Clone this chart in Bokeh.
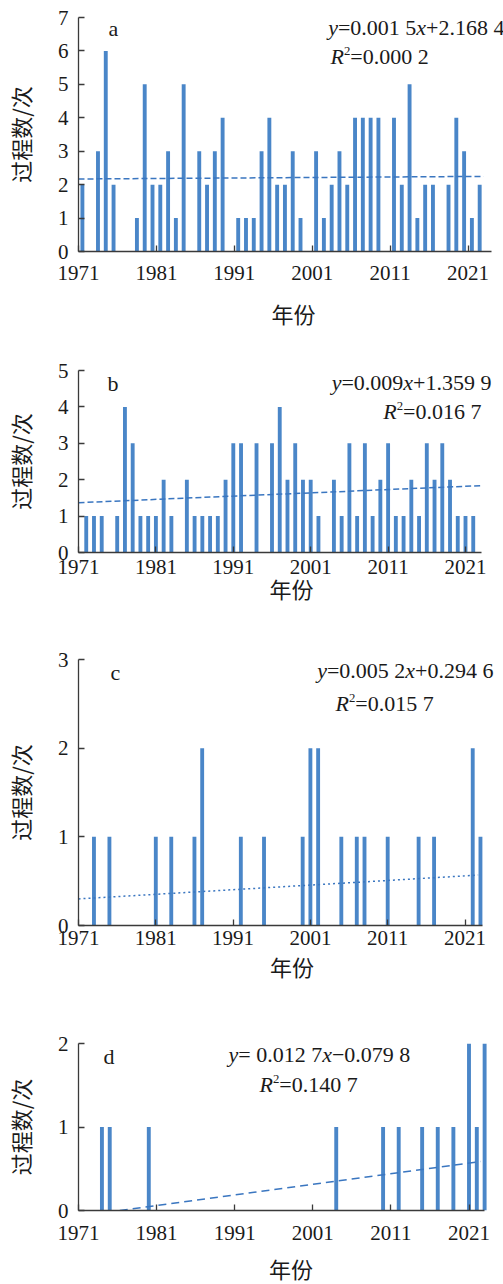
from bokeh.plotting import figure
from bokeh.models import ColumnDataSource, FixedTicker, Label, Range1d
from bokeh.layouts import column
from bokeh.embed import file_html
from bokeh.resources import INLINE

# ---------------- data ----------------
years_a = [1971, 1973, 1974, 1975, 1978, 1979, 1980, 1981, 1982, 1983, 1984,
           1986, 1987, 1988, 1989, 1991, 1992, 1993, 1994, 1995, 1996, 1997,
           1998, 1999, 2001, 2002, 2003, 2004, 2005, 2006, 2007, 2008, 2009,
           2011, 2012, 2013, 2014, 2015, 2016, 2018, 2019, 2020, 2021, 2022]
counts_a = [2, 3, 6, 2, 1, 5, 2, 2, 3, 1, 5,
            3, 2, 3, 4, 1, 1, 1, 3, 4, 2, 2,
            3, 1, 3, 1, 2, 3, 2, 4, 4, 4, 4,
            4, 2, 5, 1, 2, 2, 2, 4, 3, 1, 2]

years_b = [1972, 1973, 1974, 1976, 1977, 1978, 1979, 1980, 1981, 1982, 1983,
           1985, 1986, 1987, 1988, 1989, 1990, 1991, 1992, 1994, 1996, 1997,
           1998, 1999, 2000, 2001, 2002, 2004, 2005, 2006, 2007, 2008, 2009,
           2010, 2011, 2012, 2013, 2014, 2015, 2016, 2017, 2018, 2019, 2020,
           2021, 2022]
counts_b = [1, 1, 1, 1, 4, 3, 1, 1, 1, 2, 1,
            2, 1, 1, 1, 1, 2, 3, 3, 3, 3, 4,
            2, 3, 2, 2, 1, 2, 1, 3, 1, 3, 1,
            2, 3, 1, 1, 2, 1, 3, 2, 3, 2, 1,
            1, 1]

years_c = [1973, 1975, 1981, 1983, 1986, 1987, 1992, 1995, 2000, 2001, 2002,
           2005, 2007, 2008, 2011, 2015, 2017, 2022, 2023]
counts_c = [1, 1, 1, 1, 1, 2, 1, 1, 1, 2, 2,
            1, 1, 1, 1, 1, 1, 2, 1]

years_d = [1974, 1975, 1980, 2004, 2010, 2012, 2015, 2017, 2019, 2021, 2022, 2023]
counts_d = [1, 1, 1, 1, 1, 1, 1, 1, 1, 2, 1, 2]

x_ticks = [1971, 1981, 1991, 2001, 2011, 2021]

# trend-line coefficients (slope, intercept)
trend_a = (0.0015, 2.1684)
trend_b = (0.009, 1.3599)
trend_c = (0.0052, 0.2946)
trend_d = (0.0127, -0.0798)

eq_a = [("y", "i"), ("=0.001 5", "n"), ("x", "i"), ("+2.168 4", "n")]
r2_a = [("R", "i"), ("2", "s"), ("=0.000 2", "n")]
eq_b = [("y", "i"), ("=0.009", "n"), ("x", "i"), ("+1.359 9", "n")]
r2_b = [("R", "i"), ("2", "s"), ("=0.016 7", "n")]
eq_c = [("y", "i"), ("=0.005 2", "n"), ("x", "i"), ("+0.294 6", "n")]
r2_c = [("R", "i"), ("2", "s"), ("=0.015 7", "n")]
eq_d = [("y", "i"), ("= 0.012 7", "n"), ("x", "i"), ("\u22120.079 8", "n")]
r2_d = [("R", "i"), ("2", "s"), ("=0.140 7", "n")]

# ---------------- style ----------------
BAR = "#4a86c8"
TREND = "#3a76c0"
AXIS = "#3a3a3a"
SERIF = "Liberation Serif"
CJK = "Noto Sans CJK SC"
FS = 22
PAGE_W = 503

ADV = {".": 0.25, " ": 0.25, "=": 0.564, "+": 0.564, "\u2212": 0.564,
       "y": 0.444, "x": 0.444, "R": 0.611}


def run_w(txt, st, fs):
    w = sum(ADV.get(ch, 0.5) for ch in txt)
    return w * fs * (0.58 if st == "s" else 1.0)


def make_panel(years, counts, offset, axis_span, ppy, ymax, geo, trend, t0,
               line_x, dash, eq, eq_pos, r2, r2_pos, letter, letter_pos,
               tick_standoff, label_standoff):
    L, T, H, fig_h = geo
    W = PAGE_W - L
    x0 = axis_span[0]
    x1 = x0 + W / ppy
    p = figure(frame_width=W, frame_height=H,
               min_border_left=L, min_border_top=T,
               min_border_right=0, min_border_bottom=fig_h - T - H,
               x_range=Range1d(x0, x1), y_range=Range1d(0, ymax),
               output_backend="svg", toolbar_location=None,
               background_fill_color="white", border_fill_color="white")
    p.outline_line_color = None
    p.grid.visible = False

    src = ColumnDataSource(dict(x=[y + offset for y in years], top=counts))
    p.vbar(x="x", top="top", width=0.5, bottom=0, source=src,
           fill_color=BAR, line_color=None)

    # trend line from fitted coefficients
    k, b = trend
    xs = list(line_x)
    ys = [k * (x - t0) + b for x in xs]
    p.line(xs, ys, line_color=TREND, line_width=1.5, line_dash=dash)

    for ax in (p.xaxis[0], p.yaxis[0]):
        ax.axis_line_color = AXIS
        ax.axis_line_width = 1.3
        ax.major_tick_line_color = AXIS
        ax.major_tick_line_width = 1.3
        ax.major_tick_in = 6
        ax.major_tick_out = 0
        ax.minor_tick_line_color = None
        ax.major_label_text_font = SERIF
        ax.major_label_text_font_size = "21px"
        ax.major_label_text_color = "#1a1a1a"
        ax.axis_label_text_font = CJK
        ax.axis_label_text_font_size = "22px"
        ax.axis_label_text_font_style = "normal"
        ax.axis_label_text_color = "#1a1a1a"

    p.xaxis.bounds = axis_span
    p.xaxis.ticker = FixedTicker(ticks=x_ticks)
    p.yaxis.ticker = FixedTicker(ticks=list(range(0, ymax + 1)))
    p.xaxis.axis_label = "年份"
    p.yaxis.axis_label = "过程数/次"
    p.xaxis.major_label_standoff = tick_standoff
    p.xaxis.axis_label_standoff = label_standoff
    p.yaxis.major_label_standoff = 10
    p.yaxis.axis_label_standoff = 19

    def dx(px):
        return x0 + (px - L) / W * (x1 - x0)

    def dy(py):
        return ymax - (py - T) / H * ymax

    def rich(runs, pos):
        mode, xpx, base = pos
        total = sum(run_w(t, s, FS) for t, s in runs)
        cur = xpx - total if mode == "right" else xpx
        for t, s in runs:
            fs = FS * 0.58 if s == "s" else FS
            yb = base - FS * 0.27 if s == "s" else base
            p.add_layout(Label(x=dx(cur), y=dy(yb), text=t,
                               text_font=SERIF, text_font_size=f"{fs:.1f}px",
                               text_font_style="italic" if s == "i" else "normal",
                               text_align="left", text_baseline="alphabetic",
                               text_color="#1a1a1a"))
            cur += run_w(t, s, FS)

    rich(eq, eq_pos)
    rich(r2, r2_pos)
    lx, lb = letter_pos
    p.add_layout(Label(x=dx(lx), y=dy(lb), text=letter, text_font=SERIF,
                       text_font_size="22px", text_align="left",
                       text_baseline="alphabetic", text_color="#1a1a1a"))
    return p


def zero_x(trend, t0):
    k, b = trend
    return t0 - b / k


pa = make_panel(years_a, counts_a, 0.5, (1971, 2024), 7.79, 7,
                (73, 17, 234, 330), trend_a, 1970.5, (1971, 2023.0), "6 3",
                eq_a, ("right", 499, 27), r2_a, ("left", 325, 56),
                "a", (103, 28), 14, 14)
pb = make_panel(years_b, counts_b, 0.0, (1971, 2023.1), 7.74, 5,
                (77, 39, 182, 295), trend_b, 1970, (1971, 2022.9), "6 3",
                eq_b, ("right", 490, 51), r2_b, ("right", 480, 80),
                "b", (106, 52), 7, -5)
pc = make_panel(years_c, counts_c, 0.0, (1971, 2023.2), 7.73, 3,
                (76, 33, 266, 377), trend_c, 1970, (1971, 2022.7), "2 3",
                eq_c, ("right", 491, 44), r2_c, ("left", 333, 77),
                "c", (108, 46), 5, 2)
pd_ = make_panel(years_d, counts_d, 0.0, (1971, 2023.0), 7.81, 2,
                 (78, 40, 167, 282), trend_d, 1970,
                 (zero_x(trend_d, 1970), 2022.5), "8 5",
                 eq_d, ("left", 228, 51), r2_d, ("left", 259, 81),
                 "d", (103, 53), 15, 9)

layout = column(pa, pb, pc, pd_, spacing=0)
open("out.html", "w").write(file_html(layout, INLINE))
